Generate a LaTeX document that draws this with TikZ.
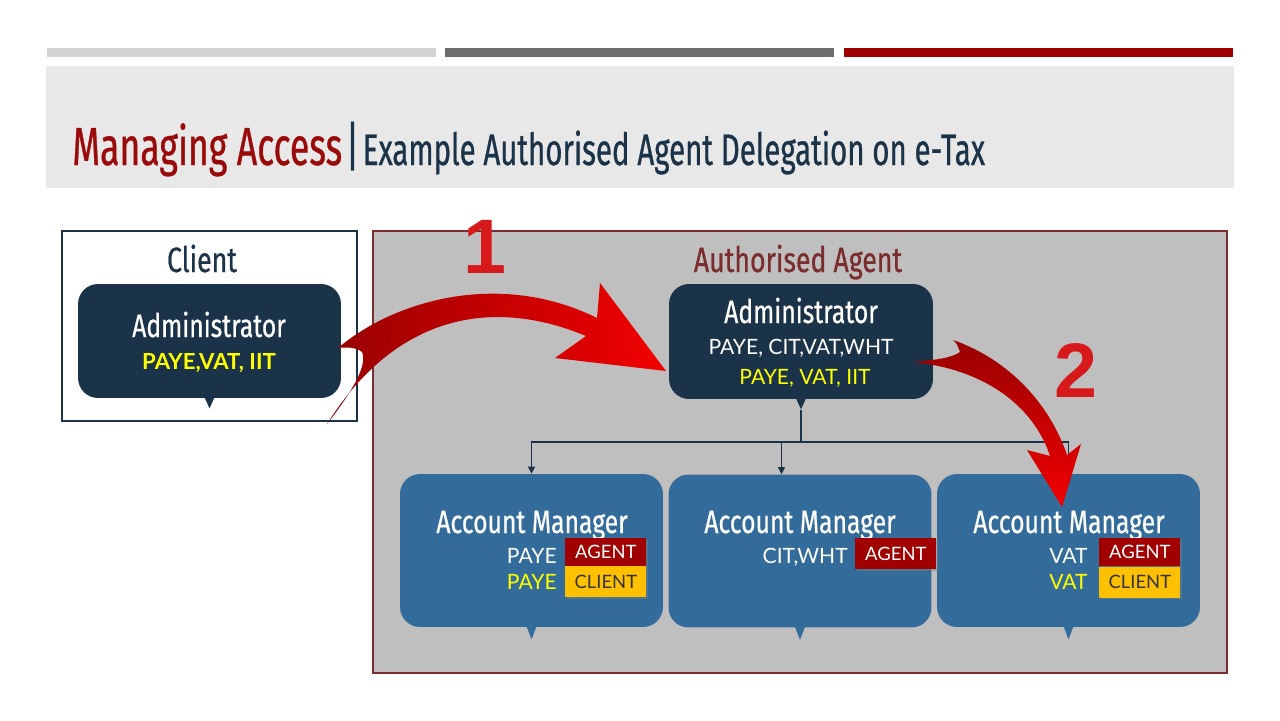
\documentclass[tikz,border=0pt]{standalone}
\usepackage{fontspec}
\setmainfont{Lato}
\newfontfamily\headfont[FakeStretch=0.76,FakeBold=0.6]{Fira Sans}
\newfontfamily\titlefont[FakeStretch=0.665,FakeBold=0.6]{Fira Sans}
\newfontfamily\numfont{Liberation Sans}
\usetikzlibrary{positioning,arrows.meta,shadows}
\definecolor{NavyBlue}{HTML}{1B3349}
\definecolor{SteelBlue}{HTML}{336C9A}
\definecolor{PanelGray}{HTML}{BFBFBF}
\definecolor{BandGray}{HTML}{E8E8E8}
\definecolor{BarLight}{HTML}{D3D3D3}
\definecolor{BarDark}{HTML}{6C6C6C}
\definecolor{BarRed}{HTML}{A00000}
\definecolor{TitleRed}{HTML}{9B0A0A}
\definecolor{AgentRed}{HTML}{7B2C2C}
\definecolor{TagRed}{HTML}{A00000}
\definecolor{TagGold}{HTML}{FFC000}
\definecolor{TaxYellow}{HTML}{FFFF00}
\definecolor{NumRed}{HTML}{D7191C}
\definecolor{ArrowDark}{HTML}{980000}
\definecolor{ArrowBright}{HTML}{F20000}
\tikzset{
  clientbox/.style={draw=NavyBlue,line width=1.1pt,fill=white,
    minimum width=5.9cm,minimum height=3.8cm,inner sep=0pt},
  agentbox/.style={draw=AgentRed,line width=1.1pt,fill=PanelGray,
    minimum width=17.08cm,minimum height=8.84cm,inner sep=0pt},
  admnode/.style={fill=NavyBlue,rounded corners=0.4cm,
    minimum width=5.28cm,minimum height=2.3cm,inner sep=0pt},
  amnode/.style={fill=SteelBlue,rounded corners=0.4cm,
    minimum width=5.26cm,minimum height=3.06cm,inner sep=0pt},
  grouplbl/.style={font=\headfont\fontsize{20}{24}\selectfont,anchor=base,inner sep=0pt},
  rolelbl/.style={font=\headfont\fontsize{18.5}{22}\selectfont,text=white,anchor=base,inner sep=0pt},
  taxlbl/.style={font=\fontsize{12}{14}\selectfont,text=white,inner sep=0pt},
  tagnode/.style={font=\fontsize{10.5}{12}\selectfont,minimum width=1.62cm,
    anchor=west,inner sep=0pt,
    drop shadow={shadow xshift=0.7pt,shadow yshift=-0.9pt,opacity=0.45}},
  agenttag/.style={tagnode,fill=TagRed,text=white,minimum height=0.57cm},
  clienttag/.style={tagnode,fill=TagGold,text=black!80,minimum height=0.62cm},
  treeline/.style={draw=NavyBlue,line width=0.6pt,-{Triangle[width=4pt,length=4pt]}},
  steplbl/.style={font=\numfont\bfseries\fontsize{44}{48}\selectfont,text=NumRed,anchor=base,inner sep=0pt},
}
\begin{document}
\begin{tikzpicture}[x=0.02cm,y=-0.02cm]
  \useasboundingbox (0,0) rectangle (1280,720);
  \fill[white] (0,0) rectangle (1280,720);
  \fill[BarLight] (47,48) rectangle (436,57);
  \fill[BarDark] (445,48) rectangle (834,57);
  \fill[BarRed] (844,48) rectangle (1233,57);
  \fill[BandGray] (46,66) rectangle (1234,188);
  \node[anchor=base west,inner sep=0pt,font=\titlefont] (title) at (72,165)
    {{\fontsize{30.5}{34}\selectfont\color{TitleRed}Managing Access}
     {\fontsize{30.5}{34}\selectfont\color{NavyBlue}|}
     {\fontsize{25.2}{28}\selectfont\color{NavyBlue}Example Authorised Agent Delegation on e-Tax}};

  \node[clientbox] (client) at (209.5,326) {};
  \node[agentbox] (agent) at (800,452) {};
  \node[grouplbl,text=NavyBlue] (clientlbl) at (202,272) {Client};
  \node[grouplbl,text=AgentRed] (agentlbl) at (798,272) {Authorised Agent};

  \node[admnode,minimum width=5.26cm,minimum height=2.28cm] (cadm) at (209.5,341) {};
  \fill[NavyBlue] (cadm.south) ++(-5,-1) -- ++(10,0) -- ++(-5,11) -- cycle;
  \node[rolelbl] (cadmlbl) at (209,337) {Administrator};
  \node[taxlbl,font=\bfseries\fontsize{12.6}{14}\selectfont,text=TaxYellow,anchor=base] (cadmtax) at (209,369) {PAYE,VAT, IIT};

  \node[admnode] (aadm) at (801,341.5) {};
  \fill[NavyBlue] (aadm.south) ++(-5,-1) -- ++(10,0) -- ++(-5,11) -- cycle;
  \coordinate (atip) at (801,410);
  \node[rolelbl] (aadmlbl) at (801,323) {Administrator};
  \node[taxlbl,anchor=base] (aadmtax) at (801,354) {PAYE, CIT,VAT,WHT};
  \node[taxlbl,text=TaxYellow,anchor=base] (aadmcli) at (805,384) {PAYE, VAT, IIT};

  \node[amnode] (am1) at (531.5,550.5) {};
  \node[amnode] (am2) at (800,551) {};
  \node[amnode] (am3) at (1068.5,550.5) {};
  \foreach \n in {am1,am2,am3}{
    \fill[SteelBlue] (\n.south) ++(-5,-1) -- ++(10,0) -- ++(-5,13) -- cycle;
  }
  \node[rolelbl] (am1lbl) at (532,533) {Account Manager};
  \node[rolelbl] (am2lbl) at (800,533) {Account Manager};
  \node[rolelbl] (am3lbl) at (1069,533) {Account Manager};

  \node[taxlbl,anchor=base east] (am1tax) at (557,563) {PAYE};
  \node[taxlbl,text=TaxYellow,anchor=base east] (am1cli) at (557,589) {PAYE};
  \node[agenttag] (am1agent) at (565,552) {AGENT};
  \node[clienttag] (am1client) at (565,581.5) {CLIENT};

  \node[taxlbl,anchor=base east] (am2tax) at (848,563) {CIT,WHT};
  \node[agenttag,minimum height=0.62cm] (am2agent) at (855,553.5) {AGENT};

  \node[taxlbl,anchor=base east] (am3tax) at (1088,563) {VAT};
  \node[taxlbl,text=TaxYellow,anchor=base east] (am3cli) at (1088,589) {VAT};
  \node[agenttag] (am3agent) at (1099,552) {AGENT};
  \node[clienttag] (am3client) at (1099,582) {CLIENT};

  \coordinate (junc) at (801,442);
  \draw[treeline] (atip) -- (junc) -| (am1.north);
  \draw[treeline] (junc) -| ([xshift=-0.37cm]am2.north);
  \draw[treeline] ([xshift=-0.37cm]am2.north |- junc) -| (am3.north);

  \shade[left color=ArrowDark,right color=ArrowBright]
    (338,348) .. controls (395,300) and (500,270) .. (597,318)
    -- (600,283) -- (666,371) -- (555,358) -- (586,336)
    .. controls (500,300) and (400,308) .. (327,424)
    .. controls (352,392) and (368,365) .. (362,352)
    .. controls (356,347) and (346,347) .. (338,348) -- cycle;
  \shade[top color=ArrowDark,bottom color=ArrowBright]
    (953,340) .. controls (1010,360) and (1050,405) .. (1067,455)
    -- (1081,444) -- (1062,507) -- (1027,450) -- (1050,456)
    .. controls (1035,410) and (990,370) .. (913,362)
    .. controls (935,360) and (952,358) .. (960,352)
    .. controls (958,346) and (956,342) .. (953,340) -- cycle;

  \node[steplbl] (step1) at (485,273) {1};
  \node[steplbl] (step2) at (1076,397) {2};
\end{tikzpicture}
\end{document}
